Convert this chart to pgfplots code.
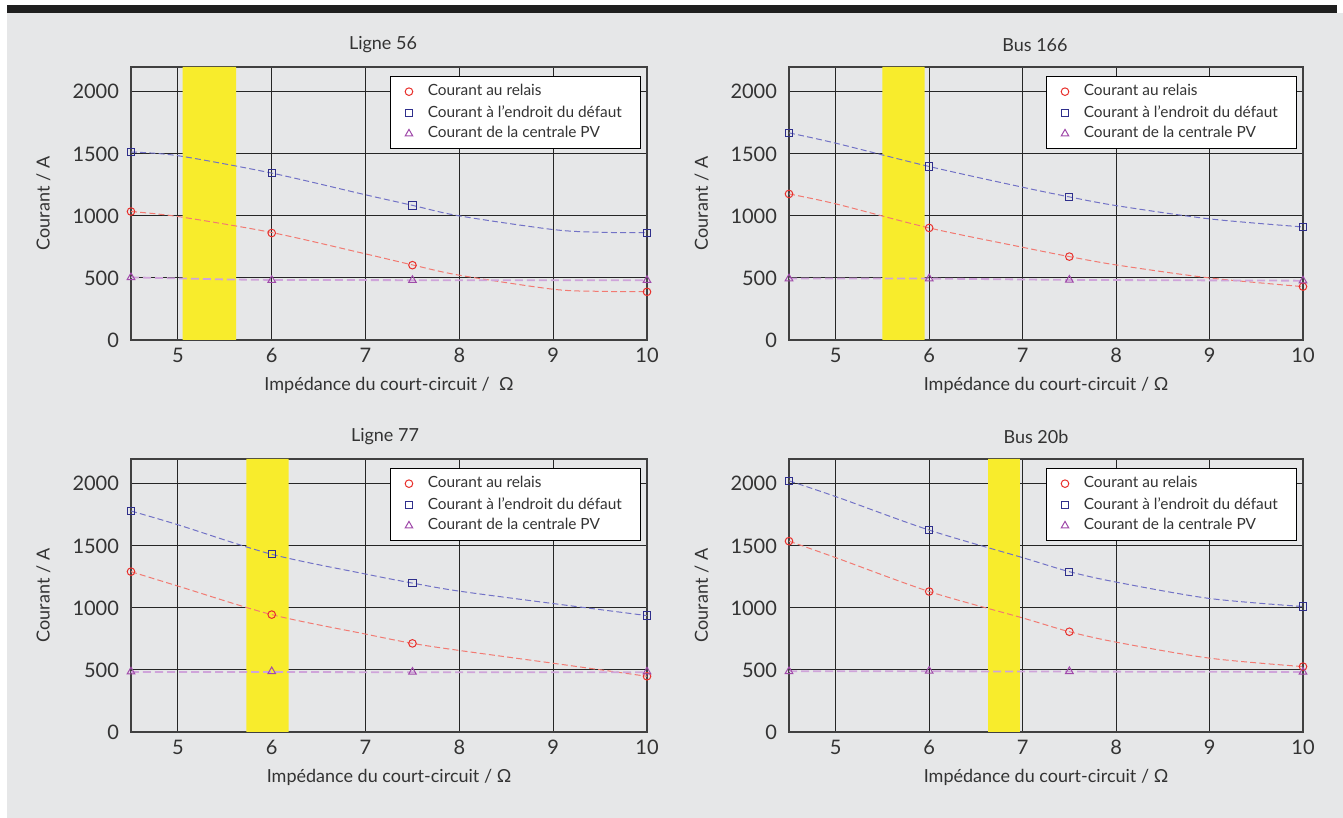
\documentclass[border=0pt]{standalone}
\usepackage{pgfplots}
\pgfplotsset{compat=1.18}
\usepackage{fontspec}
\setmainfont{Lato}
\definecolor{bg}{HTML}{E6E7E8}
\definecolor{bandc}{HTML}{F8EC2C}
\definecolor{relmc}{HTML}{E8302C}
\definecolor{rellc}{HTML}{F27A72}
\definecolor{defmc}{HTML}{2F2F8C}
\definecolor{deflc}{HTML}{7272C6}
\definecolor{pvmc}{HTML}{A04AAA}
\definecolor{pvlc}{HTML}{CFA4DA}
\definecolor{txt}{HTML}{333333}

\pgfplotsset{
  panel/.style={
    scale only axis, width=258pt, height=136.5pt, anchor=south west,
    xmin=4.5, xmax=10, ymin=0, ymax=2200,
    xtick={5,6,7,8,9,10}, ytick={0,500,1000,1500,2000},
    grid=major, major grid style={line width=0.5pt, color=black!85},
    axis line style={line width=1pt, color=black!75},
    major tick length=0pt,
    tick label style={font=\fontsize{10}{12}\selectfont, color=txt},
    yticklabel style={xshift=-2.5pt},
    xticklabel style={yshift=-0.5pt},
    /pgf/number format/assume math mode=true,
    /pgf/number format/1000 sep={},
    label style={font=\fontsize{9}{11}\selectfont, color=txt},
    title style={font=\fontsize{9}{11}\selectfont, color=txt, at={(0.5,1)}, anchor=center, yshift=5pt},
    xlabel={Impédance du court-circuit / Ω},
    ylabel={Courant / A},
    xlabel style={at={(axis description cs:0.5,-0.165)}, anchor=center},
    ylabel style={at={(axis description cs:-0.17,0.5)}, anchor=center},
    legend style={at={(0.989,0.967)}, anchor=north east, draw=black, line width=0.5pt,
      fill=white, font=\fontsize{7.7}{9}\selectfont, text=txt, row sep=-0.75pt,
      inner xsep=7.5pt, column sep=5.5pt},
    legend cell align=left,
  },
  bandst/.style={fill=bandc, draw=none, forget plot},
  rellst/.style={rellc, dash pattern=on 3pt off 1.6pt, line width=0.5pt, smooth, forget plot, no marks},
  deflst/.style={deflc, dash pattern=on 3pt off 1.6pt, line width=0.5pt, smooth, forget plot, no marks},
  pvlst/.style={pvlc, dash pattern=on 4pt off 2pt, line width=0.9pt, forget plot, no marks},
  relmst/.style={only marks, mark=o, mark size=1.9pt, relmc, mark options={line width=0.5pt, solid}},
  defmst/.style={only marks, mark=square, mark size=1.8pt, defmc, mark options={line width=0.5pt, solid}},
  pvmst/.style={only marks, mark=triangle, mark size=2.2pt, pvmc, mark options={line width=0.5pt, solid}},
}

\begin{document}
\begin{tikzpicture}
\path[use as bounding box] (0,0) rectangle (671.5pt,409pt);
\fill[white] (0,0) rectangle (671.5pt,409pt);
\fill[bg] (3.5pt,0) rectangle (671.5pt,402.5pt);
\fill[black!88] (3.5pt,402.5pt) rectangle (668.5pt,406.5pt);

% ---------- Ligne 56 ----------
\begin{axis}[panel, at={(65.5pt,239pt)}, title={Ligne 56}, title style={xshift=-3pt},
  xlabel={Impédance du court-circuit /\ \ Ω}]
\addplot[bandst] coordinates {(5.05,0) (5.05,2200) (5.62,2200) (5.62,0)} \closedcycle;
\addplot[rellst] coordinates {(4.5,1035) (5,995) (6,866) (7,694) (7.5,605) (8,522) (9,409) (9.5,392) (10,390)};
\addplot[deflst] coordinates {(4.5,1515) (5,1485) (6,1345) (7,1170) (7.5,1085) (8,1000) (9,890) (9.5,868) (10,865)};
\addplot[pvlst] coordinates {(4.5,505) (5.5,488) (6,484) (7.5,482) (10,482)};
\addplot[relmst] coordinates {(4.5,1035) (6,862) (7.5,603) (10,388)};
\addplot[defmst] coordinates {(4.5,1515) (6,1345) (7.5,1083) (10,865)};
\addplot[pvmst] coordinates {(4.5,505) (6,482) (7.5,482) (10,482)};
\legend{Courant au relais, Courant à l’endroit du défaut, Courant de la centrale PV}
\end{axis}

% ---------- Bus 166 ----------
\begin{axis}[panel, at={(394.5pt,239pt)}, width=257pt, title={Bus 166}, title style={xshift=-5.5pt}]
\addplot[bandst] coordinates {(5.5,0) (5.5,2200) (5.95,2200) (5.95,0)} \closedcycle;
\addplot[rellst] coordinates {(4.5,1177) (5,1097) (6,903) (7,747) (7.5,672) (8,605) (9,500) (10,430)};
\addplot[deflst] coordinates {(4.5,1669) (5,1586) (6,1398) (7,1231) (7.5,1153) (8,1083) (9,976) (10,911)};
\addplot[pvlst] coordinates {(4.5,495) (6,495) (7.5,484) (10,478)};
\addplot[relmst] coordinates {(4.5,1177) (6,903) (7.5,672) (10,430)};
\addplot[defmst] coordinates {(4.5,1669) (6,1398) (7.5,1153) (10,911)};
\addplot[pvmst] coordinates {(4.5,495) (6,495) (7.5,484) (10,478)};
\legend{Courant au relais, Courant à l’endroit du défaut, Courant de la centrale PV}
\end{axis}

% ---------- Ligne 77 ----------
\begin{axis}[panel, at={(65.5pt,43pt)}, title={Ligne 77}, title style={xshift=-2pt}]
\addplot[bandst] coordinates {(5.73,0) (5.73,2200) (6.18,2200) (6.18,0)} \closedcycle;
\addplot[rellst] coordinates {(4.5,1292) (5,1176) (6,946) (7,789) (7.5,714) (8,657) (9,554) (10,449)};
\addplot[deflst] coordinates {(4.5,1781) (5,1670) (6,1432) (7,1273) (7.5,1200) (8,1135) (9,1035) (10,938)};
\addplot[pvlst] coordinates {(4.5,484) (6,484) (7.5,481) (10,481)};
\addplot[relmst] coordinates {(4.5,1292) (6,946) (7.5,714) (10,449)};
\addplot[defmst] coordinates {(4.5,1781) (6,1432) (7.5,1200) (10,938)};
\addplot[pvmst] coordinates {(4.5,486) (6,488) (7.5,484) (10,486)};
\legend{Courant au relais, Courant à l’endroit du défaut, Courant de la centrale PV}
\end{axis}

% ---------- Bus 20b ----------
\begin{axis}[panel, at={(394.5pt,43pt)}, width=257pt, title={Bus 20b}, title style={xshift=-5pt}]
\addplot[bandst] coordinates {(6.63,0) (6.63,2200) (6.97,2200) (6.97,0)} \closedcycle;
\addplot[rellst] coordinates {(4.5,1538) (5,1405) (6,1132) (7,919) (7.5,808) (8,724) (9,595) (10,527)};
\addplot[deflst] coordinates {(4.5,2024) (5,1897) (6,1627) (7,1405) (7.5,1292) (8,1208) (9,1076) (10,1011)};
\addplot[pvlst] coordinates {(4.5,489) (6,489) (7.5,487) (10,484)};
\addplot[relmst] coordinates {(4.5,1538) (6,1132) (7.5,808) (10,527)};
\addplot[defmst] coordinates {(4.5,2024) (6,1627) (7.5,1292) (10,1011)};
\addplot[pvmst] coordinates {(4.5,489) (6,492) (7.5,489) (10,484)};
\legend{Courant au relais, Courant à l’endroit du défaut, Courant de la centrale PV}
\end{axis}
\end{tikzpicture}
\end{document}
